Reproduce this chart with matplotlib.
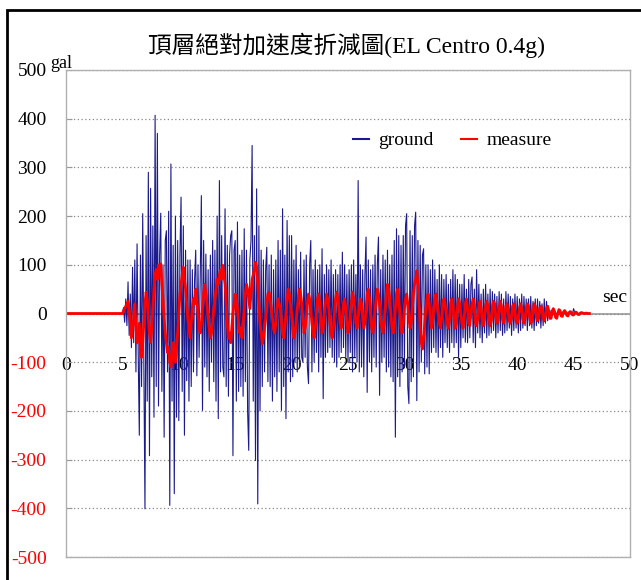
import numpy as np
import matplotlib
matplotlib.use("Agg")
import matplotlib.pyplot as plt
from matplotlib.patches import Rectangle

plt.rcParams['font.family'] = ['Liberation Serif', 'Noto Sans CJK TC']
plt.rcParams['axes.unicode_minus'] = False

# acceleration records (gal), sampled every 0.1 s from 5.0 s; zero before that
DT = 0.1
T_START = 5.0

ground = [
    0, 12, -18, 30, -25, 65, -45, 40, -70, 95,                # 5
    -60, 110, -120, 143, -80, -250, 120, -150, 205, -110,     # 6
    -401, 160, -180, 290, -292, 257, -130, 180, -213, 407,    # 7
    -150, 370, -190, 120, 206, -160, 100, -254, 150, 170,     # 8
    -120, 210, -394, 307, -180, 140, -370, 200, -213, 150,    # 9
    -220, 120, 239, -160, 180, -250, 130, -138, 110, -180,    # 10
    110, -150, 90, -120, 70, 130, -128, 100, -90, 80,         # 11
    242, -199, 150, -110, 122, -130, 90, -160, 120, -100,     # 12
    150, -140, 130, -180, 200, -216, 273, -120, 160, -110,    # 13
    -130, 215, -150, 140, -170, 120, 160, 170, -292, 130,     # 14
    150, -180, 188, -160, 120, -150, 130, -170, 174, -140,    # 15
    130, -200, -281, 110, 150, 345, -180, 160, -302, 256,     # 16
    -391, 180, -200, 130, -150, 110, -120, 90, 136, -140,     # 17
    100, -150, 120, -180, 90, -130, 110, -160, 150, -120,     # 18
    130, -199, 215, -150, 120, -216, 191, -120, 160, -140,    # 19
    160, -130, 110, -100, 140, -120, 90, -110, 126, -90,      # 20
    -100, 110, -90, 120, -110, -144, 100, 150, -120, 90,      # 21
    -100, 110, -80, 90, -120, 100, -90, 133, -175, 80,        # 22
    -90, 100, -80, 90, -70, 110, -90, 80, -100, 90,           # 23
    -110, 80, -90, 100, -80, 126, -70, 100, -90, 80,          # 24
    -100, 90, -80, 100, -120, 110, -90, 80, -100, 273,        # 25
    -120, 100, -110, 90, -130, 80, 157, -162, 110, -100,      # 26
    90, -120, 100, -90, 120, -110, 100, 157, -168, 90,        # 27
    -100, 120, -90, 110, -120, 130, -110, 100, -130, 120,     # 28
    -140, 150, -254, 174, -130, 160, -150, 140, -120, 160,    # 29
    -110, 180, 205, -150, -185, 170, -140, 160, -130, 180,    # 30
    208, -179, 150, -120, 140, -100, 120, 133, -124, 100,     # 31
    -110, 100, -124, 90, -80, 110, -70, 90, -80, 70,          # 32
    -90, 100, -70, 80, -90, 70, -60, 80, -70, 60,             # 33
    -80, 70, -60, 90, -70, 80, -60, 70, -90, 60,              # 34
    -70, 60, -50, 80, -59, 50, -60, 70, -50, 60,              # 35
    75, -60, 50, -70, 90, -40, 60, -50, 40, -60,              # 36
    50, -40, 60, -50, 40, -45, 50, -40, 45, -35,              # 37
    40, -50, 35, -40, 45, -35, 40, -45, 30, -40,              # 38
    45, -35, 40, -30, 35, -45, 30, -35, 40, -30,              # 39
    35, -40, 30, -35, 40, -30, 35, -25, 30, -35,              # 40
    30, -25, 35, -30, 25, -35, 30, -25, 30, -20,              # 41
    25, -30, 20, -25, 30, -20, 25, -15, 10, -8,               # 42
    6, -5, 4, -4, 3, -3, 2, -2, 3, -2,                        # 43
    2, -2, 1, -1, 2, -1, 1, -1, 1, -1,                        # 44
    10, 2, -1, 1, 0, 0, 0, 0, 0, 0,                           # 45
    0, 0, 0, 0, 0,                                            # 46
]

measure = [
    0, 5, 10, 15, 20, 25, 10, -20, -50, -30,                  # 5
    -10, 20, -30, -60, -40, -20, -80, -90, -60, -20,          # 6
    20, 44, 30, -10, -40, -60, -30, 10, 50, 80,               # 7
    90, 70, 100, 85, 102, 60, 30, -10, -40, -60,              # 8
    -80, -70, -100, -110, -90, -60, -80, -100, -70, -40,      # 9
    0, 40, 60, 80, 95, 70, 50, 20, -10, -30,                  # 10
    -50, -20, 10, 30, 20, 50, 30, 0, -30, -40,                # 11
    -20, 10, 40, 60, 40, 20, -10, -30, -50, -40,              # 12
    -20, 10, 30, 50, 70, 60, 80, 90, 70, 99,                  # 13
    80, 60, 20, -20, -50, -40, -60, -30, 0, 20,               # 14
    40, 30, 10, -20, -40, -30, -50, -20, 10, 40,              # 15
    60, 50, 30, 10, 40, 70, 80, 90, 105, 95,                  # 16
    60, 20, -20, -40, -62, -50, -30, -10, 20, 40,             # 17
    44, 30, 10, -10, -30, -40, -20, 10, 30, 20,               # 18
    10, -20, -40, -50, -30, 0, 30, 50, 40, 20,                # 19
    0, -30, -50, -40, -20, 10, 30, 50, 40, 20,                # 20
    -10, -40, -30, -10, 20, 40, 30, 10, -20, -40,             # 21
    -50, -30, 0, 30, 40, 20, -10, -40, -30, 0,                # 22
    20, 40, 30, 10, -20, -40, -50, -30, 0, 30,                # 23
    44, 30, 10, -20, -30, -10, 20, 30, 10, -20,               # 24
    -40, -30, 0, 20, 44, 30, 10, -20, -30, -10,               # 25
    10, 30, 20, -10, -30, -20, 10, 40, 50, 30,                # 26
    0, -30, -40, -20, 10, 30, 50, 40, 20, -10,                # 27
    -30, -40, -20, 10, 40, 60, 50, 30, 0, -30,                # 28
    -40, -20, 10, 40, 50, 30, 0, -30, -40, -20,               # 29
    10, 30, 40, 20, -10, -30, -20, 10, 40, 60,                # 30
    70, 88, 60, 20, -30, -60, -73, -50, -20, 10,              # 31
    30, 40, 20, -10, -30, -20, 10, 30, 40, 20,                # 32
    0, -20, -30, -10, 20, 30, 20, 0, -20, -30,                # 33
    -10, 20, 30, 20, -10, -30, -20, 10, 30, 20,               # 34
    0, -20, -30, -10, 20, 30, 10, -20, -25, 0,                # 35
    20, 30, 10, -20, -25, -10, 15, 25, 10, -15,               # 36
    -25, -10, 15, 25, 15, -10, -25, -15, 10, 25,              # 37
    20, -5, -20, -15, 10, 25, 15, -10, -20, -5,               # 38
    15, 20, 5, -15, -20, -5, 15, 20, 5, -15,                  # 39
    -20, -10, 10, 20, 10, -10, -20, -10, 10, 20,              # 40
    15, -5, -20, -15, 5, 20, 15, -5, -15, -10,                # 41
    10, 15, 10, -10, -15, -5, 10, 15, 5, -10,                 # 42
    -10, 5, 10, 5, -8, -10, 0, 8, 6, -5,                      # 43
    -6, 3, 6, 3, -4, -5, 2, 4, 2, -3,                         # 44
    -3, 2, 3, 1, -2, -2, 1, 2, 1, 0,                          # 45
    0, 1, 0, 0, 0,                                            # 46
]

x_ticks = [0, 5, 10, 15, 20, 25, 30, 35, 40, 45, 50]
y_ticks = [-500, -400, -300, -200, -100, 0, 100, 200, 300, 400, 500]


def time_axis(values):
    t = T_START + DT * np.arange(len(values))
    return np.concatenate([[0.0], t]), np.concatenate([[0.0], values])


W, H = 641, 580
fig = plt.figure(figsize=(W / 100, H / 100), dpi=100)
ax = fig.add_axes([66 / W, (H - 557) / H, (630 - 66) / W, (557 - 70) / H])

tg, g = time_axis(ground)
tm, m = time_axis(measure)
ax.plot(tg, g, color='#1a1a8c', lw=0.8, label='ground')
ax.plot(tm, m, color='#ff0000', lw=2.0, label='measure')

ax.set_xlim(0, 50)
ax.set_ylim(-500, 500)
ax.axhline(0, color='#999999', lw=1.2, zorder=0.5)

for s in ax.spines.values():
    s.set_color('#b0b0b0')
    s.set_linewidth(1.0)

ax.set_yticks(y_ticks)
ax.yaxis.grid(True, linestyle=(0, (1, 2)), color='#888888', lw=0.9)
ax.tick_params(axis='y', direction='in', length=4, color='#999999', pad=14, labelsize=14)
for lbl, v in zip(ax.get_yticklabels(), y_ticks):
    lbl.set_color('red' if v < 0 else 'black')

# x labels sit under the zero line
ax.set_xticks([])
sec = ax.secondary_xaxis(0.5)
sec.set_xticks(x_ticks)
sec.xaxis.set_ticks_position('bottom')
sec.tick_params(axis='x', length=0, pad=31, labelsize=14,
                labelbottom=True, labeltop=False)
for s in sec.spines.values():
    s.set_visible(False)

leg = ax.legend(loc='center', bbox_to_anchor=(0.685, 0.855), ncol=2, fontsize=14,
                handlelength=0.8, handletextpad=0.5, columnspacing=1.4,
                frameon=True, fancybox=False, framealpha=1, borderpad=0.3)
leg.get_frame().set_edgecolor('none')
for ln in leg.get_lines():
    ln.set_linewidth(1.5)

fig.text(347 / W, 1 - 45 / H, '頂層絕對加速度折減圖(EL Centro 0.4g)', ha='center', va='center', fontsize=17)
fig.text(50 / W, 1 - 63 / H, 'gal', ha='left', va='center', fontsize=13)
fig.text(627 / W, 1 - 298 / H, 'sec', ha='right', va='center', fontsize=14)

fig.add_artist(Rectangle((7 / W, -0.05), 1.2, 1.05 - 10 / H, transform=fig.transFigure,
                         fill=False, edgecolor='black', lw=2))

fig.savefig('out.png', dpi=100)
